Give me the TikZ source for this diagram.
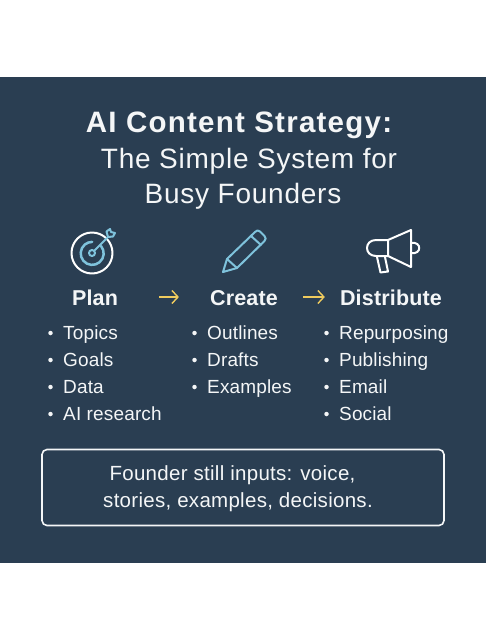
\documentclass[tikz,border=0pt]{standalone}
\usepackage{fontspec}
\setmainfont{Liberation Sans}
\newfontfamily\spacedA[LetterSpace=4.2]{Liberation Sans}
\newfontfamily\spacedB[LetterSpace=2.7]{Liberation Sans}
\newfontfamily\spacedC[LetterSpace=1.4]{Liberation Sans}
\newfontfamily\spacedD[LetterSpace=0.8]{Liberation Sans}
\usetikzlibrary{arrows.meta}
\definecolor{navy}{HTML}{2A3E52}
\definecolor{ink}{HTML}{F4F6F7}
\definecolor{sky}{HTML}{7FC3DC}
\definecolor{gold}{HTML}{EFCB5E}
\tikzset{
 txt/.style={text=ink,inner sep=0pt,anchor=base},
 titlebold/.style={txt,font=\spacedA\fontsize{29.5}{32}\selectfont\bfseries},
 titlereg/.style={txt,font=\spacedB\fontsize{28}{32}\selectfont},
 head/.style={txt,font=\spacedD\fontsize{21.5}{24}\selectfont\bfseries,text height=16pt,text depth=0pt,anchor=center},
 item/.style={txt,font=\spacedD\fontsize{19}{22}\selectfont,anchor=base west},
 note/.style={txt,font=\spacedC\fontsize{20.5}{24}\selectfont},
 dot/.style={circle,fill=ink,inner sep=0pt,minimum size=4.5pt},
 flow/.style={gold,line width=1.4pt,-{Straight Barb[length=6pt,width=13pt]}},
 wline/.style={white,line width=2pt,line join=round,line cap=round},
 bline/.style={sky,line width=2pt,line join=round,line cap=round},
}
\begin{document}
\begin{tikzpicture}[x=1pt,y=-1pt]
\useasboundingbox (0,0) rectangle (486,640);
\fill[navy] (0,77) rectangle (486,563);
\node[titlebold] (t1) at (239,132) {AI Content Strategy:};
\node[titlereg] (t2) at (249,168) {The Simple System for};
\node[titlereg] (t3) at (243,203) {Busy Founders};
% target
\draw[wline] (92,253) circle (20.5);
\draw[bline,line width=2.5pt] (101,246) arc (-40:270:11.5);
\draw[bline] (92,253) circle (3);
\draw[bline] (94,251) -- (108,237);
\draw[bline] (108,237) -- (106.5,231.5) -- (110,229) -- (111,232) -- (115,233) -- (113,236.5) -- cycle;
% pencil
\draw[bline] (223,272) -- (227,259) -- (255,232) .. controls (257,230) and (258,230) .. (260,231.5) -- (264.5,236) .. controls (266,238) and (266,239) .. (264.5,241) -- (237,268) -- cycle;
\draw[bline] (227,259) -- (237,268);
\draw[bline] (251,236) -- (261,245);
% megaphone
\draw[wline] (388,240) -- (411,230) -- (411,267) -- (388,256) -- cycle;
\draw[wline] (388,240) -- (376,240) .. controls (364,240) and (364,256) .. (376,256) -- (388,256);
\draw[wline] (411,243) .. controls (422,241) and (422,255) .. (411,253);
\draw[wline] (377,257) -- (380.5,272.5) -- (388,271.5) -- (385,257);
% headers
\node[head] (plan) at (95,297) {Plan};
\node[head] (create) at (244,297) {Create};
\node[head] (dist) at (391,297) {Distribute};
\draw[flow,shorten <=41pt,shorten >=31pt] (plan.east) -- (create.west);
\draw[flow,shorten <=25pt,shorten >=15pt] (create.east) -- (dist.west);
% lists
\foreach \n/\x/\y/\s in {a/63/339/Topics,b/63/366/Goals,c/63/393/Data,d/63/420/AI research,
 e/207/339/Outlines,f/207/366/Drafts,g/207/393/Examples,
 h/339/339/Repurposing,i/339/366/Publishing,j/339/393/Email,k/339/420/Social}{
  \node[item] (\n) at (\x,\y) {\s};
  \node[dot] (dot\n) at (\x-12.5,\y-6) {};
}
% note
\node[draw=ink,line width=1.6pt,rounded corners=5pt,minimum width=402pt,minimum height=76pt,inner sep=0pt] (box) at (243,487.5) {};
\node[note] (n1) at (232.5,480) {Founder still inputs: voice,};
\node[note] (n2) at (238,507) {stories, examples, decisions.};
\end{tikzpicture}
\end{document}
